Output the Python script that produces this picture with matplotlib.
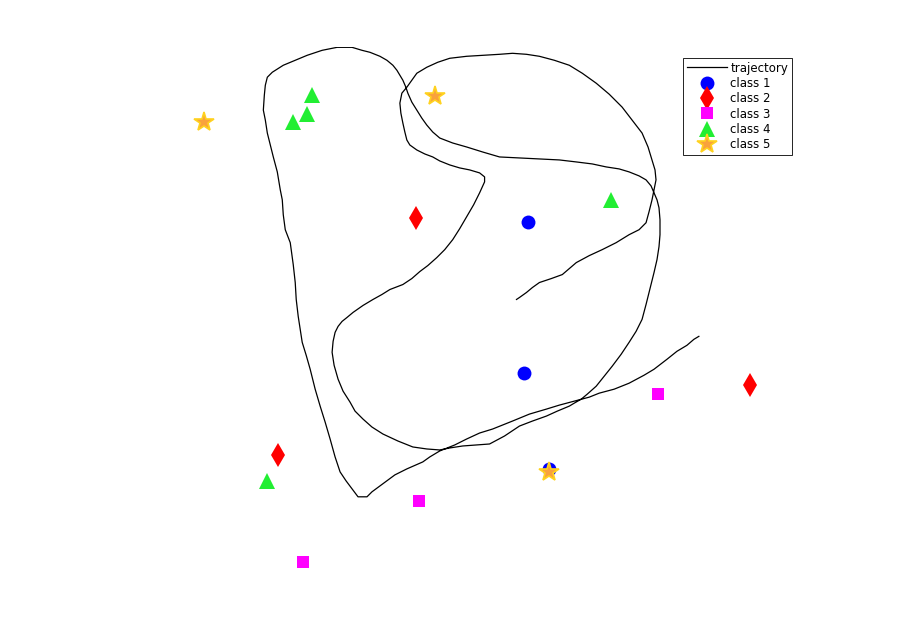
import matplotlib.pyplot as plt
import numpy as np

# trajectory (pixel units, y downwards)
traj_x = [700, 695, 688, 678, 668, 655, 645, 630, 615, 600, 590, 575, 560, 547, 530, 513, 493, 480, 467, 455,
          440, 430, 423, 407, 395, 380, 372, 367, 358, 352, 346, 340, 335, 330, 325, 320, 315, 310, 306, 302,
          300, 298, 296, 295, 293, 290, 285, 283, 282, 280, 277, 273, 270, 267, 265, 263, 264, 265, 267, 272,
          283, 295, 307, 322, 337, 352, 362, 370, 380, 387, 393, 397, 403, 406, 408, 412, 417, 422, 427, 433,
          440, 453, 467, 483, 500, 520, 540, 560, 577, 593, 607, 620, 630, 640, 647, 652, 655, 658, 660, 661,
          661, 660, 658, 655, 652, 650, 647, 643, 637, 630, 622, 613, 605, 597, 588, 582, 575, 570, 558, 547,
          533, 520, 505, 490, 477, 463, 450, 440, 427, 413, 398, 383, 372, 363, 355, 350, 343, 338, 334, 332,
          333, 335, 338, 342, 347, 353, 363, 373, 382, 390, 403, 412, 420, 428, 437, 445, 453, 460, 467, 474,
          480, 485, 485, 480, 470, 460, 450, 440, 433, 425, 417, 410, 407, 405, 403, 401, 400, 402, 407, 412,
          417, 427, 438, 450, 467, 483, 500, 513, 527, 540, 555, 570, 583, 597, 610, 623, 633, 643, 649, 653,
          656, 657, 655, 653, 650, 647, 640, 630, 617, 603, 590, 577, 570, 563, 552, 540, 533, 527, 520, 517]
traj_y = [337, 340, 346, 352, 360, 370, 376, 384, 390, 394, 398, 402, 406, 410, 415, 422, 430, 434, 440, 446,
          452, 458, 463, 470, 476, 487, 493, 498, 498, 490, 482, 473, 458, 440, 423, 407, 390, 370, 356, 343,
          330, 317, 300, 283, 265, 243, 230, 215, 200, 190, 172, 157, 145, 133, 120, 110, 95, 85, 77, 72,
          65, 60, 55, 50, 47, 47, 50, 52, 56, 60, 65, 70, 80, 87, 93, 102, 110, 118, 125, 132,
          138, 143, 147, 152, 157, 158, 159, 160, 162, 164, 167, 169, 172, 176, 180, 186, 193, 200, 208, 220,
          235, 247, 260, 273, 285, 293, 305, 320, 332, 343, 355, 367, 377, 387, 395, 400, 404, 407, 412, 417,
          422, 427, 437, 445, 446, 447, 449, 451, 450, 448, 442, 435, 428, 420, 412, 403, 392, 380, 366, 353,
          342, 333, 327, 322, 318, 313, 306, 300, 295, 290, 285, 279, 272, 266, 258, 250, 240, 229, 217, 205,
          193, 182, 177, 173, 170, 168, 165, 161, 157, 154, 150, 145, 140, 132, 123, 113, 103, 93, 87, 80,
          73, 67, 62, 58, 56, 55, 54, 53, 54, 56, 60, 65, 73, 83, 94, 107, 120, 133, 147, 160,
          170, 180, 190, 200, 212, 223, 230, 235, 243, 250, 256, 263, 269, 275, 279, 283, 288, 293, 298, 300]

# class points
c1_x = [529, 525, 550]
c1_y = [222, 374, 470]
c2_x = [416, 751, 278]
c2_y = [218, 386, 456]
c3_x = [659, 419, 303]
c3_y = [395, 502, 563]
c4_x = [312, 307, 293, 612, 267]
c4_y = [95, 114, 122, 200, 482]
c5_x = [435, 203, 550]
c5_y = [96, 122, 473]

fig = plt.figure(figsize=(9.21, 6.31), dpi=100)
ax = fig.add_axes([0.13, 0.11, 0.775, 0.815])

ax.plot(traj_x, traj_y, color='black', lw=0.9, label='trajectory')
ax.plot(c1_x, c1_y, 'o', color='#0000ff', ms=10, mew=0, label='class 1', ls='none', clip_on=False)
ax.plot(c2_x, c2_y, 'd', color='#ff0000', ms=12.5, mew=0, label='class 2', ls='none', clip_on=False)
ax.plot(c3_x, c3_y, 's', color='#ff00ff', ms=8, mew=0, label='class 3', ls='none', clip_on=False)
ax.plot(c4_x, c4_y, '^', color='#22ee33', ms=11, mew=0, label='class 4', ls='none', clip_on=False)
ax.plot(c5_x, c5_y, '*', mfc='#f9a23c', mec='#ffd21f', ms=15, mew=1.2, label='class 5', ls='none', clip_on=False)

all_x = traj_x + c1_x + c2_x + c3_x + c4_x + c5_x
all_y = traj_y + c1_y + c2_y + c3_y + c4_y + c5_y
ax.set_xlim(min(all_x) - 1, max(all_x) + 1)
ax.set_ylim(max(all_y), min(all_y))
ax.set_aspect('equal', adjustable='box')
ax.axis('off')

leg = fig.legend(loc='upper left', bbox_to_anchor=(683 / 921, 1 - 58 / 631),
                 fontsize=8.5, frameon=True, fancybox=False, framealpha=1,
                 edgecolor='black', handlelength=3.4, handletextpad=0.3,
                 borderpad=0.3, labelspacing=0.2, borderaxespad=0, numpoints=1)
leg.get_frame().set_linewidth(0.6)

plt.savefig('out.png', dpi=100)
